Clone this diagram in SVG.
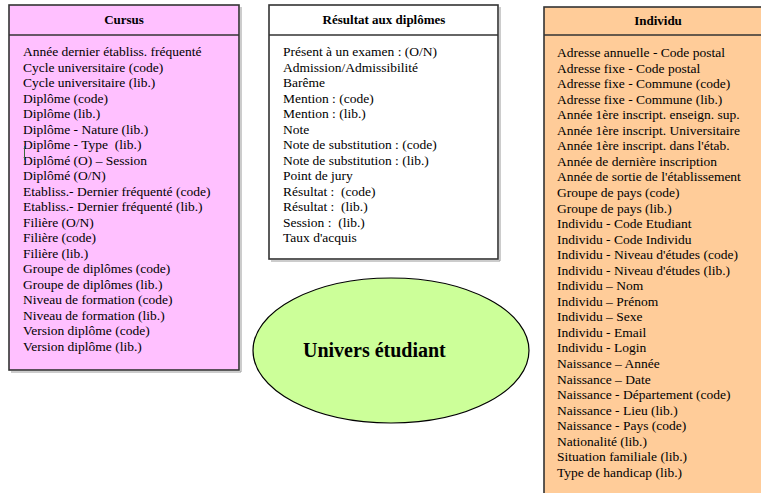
<svg xmlns="http://www.w3.org/2000/svg" width="761" height="493" viewBox="0 0 761 493">
<style>
.box{stroke:#333;stroke-width:1.6}
.sh{fill:none;stroke:#999;stroke-width:1}
.div{stroke:#333;stroke-width:1.6}
.hd{font-family:"Liberation Serif","Times New Roman",serif;font-weight:bold;font-size:13px;fill:#000;text-anchor:middle}
.it{font-family:"Liberation Serif","Times New Roman",serif;font-size:13.5px;fill:#000}
.big{font-family:"Liberation Serif","Times New Roman",serif;font-weight:bold;font-size:20px;fill:#000}
</style>
<rect width="761" height="493" fill="#fff"/>
<g id="connectors"/>
<g id="cursus">
<path class="sh" d="M241 7 V372 H11"/>
<rect class="box" x="9" y="5" width="230" height="365" fill="#FFC0FF"/>
<line class="div" x1="9" y1="35" x2="239" y2="35"/>
<text class="hd" x="124" y="24">Cursus</text>
<g class="it">
<text x="23" y="56">Année dernier établiss. fréquenté</text>
<text x="23" y="71.5">Cycle universitaire (code)</text>
<text x="23" y="87">Cycle universitaire (lib.)</text>
<text x="23" y="102.5">Diplôme (code)</text>
<text x="23" y="118">Diplôme (lib.)</text>
<text x="23" y="133.5">Diplôme - Nature (lib.)</text>
<text x="23" y="149" xml:space="preserve">Diplôme - Type  (lib.)</text>
<text x="23" y="164.5">Diplômé (O) – Session</text>
<text x="23" y="180">Diplômé (O/N)</text>
<text x="23" y="195.5">Etabliss.- Dernier fréquenté (code)</text>
<text x="23" y="211">Etabliss.- Dernier fréquenté (lib.)</text>
<text x="23" y="226.5">Filière (O/N)</text>
<text x="23" y="242">Filière (code)</text>
<text x="23" y="257.5">Filière (lib.)</text>
<text x="23" y="273">Groupe de diplômes (code)</text>
<text x="23" y="288.5">Groupe de diplômes (lib.)</text>
<text x="23" y="304">Niveau de formation (code)</text>
<text x="23" y="319.5">Niveau de formation (lib.)</text>
<text x="23" y="335">Version diplôme (code)</text>
<text x="23" y="350.5">Version diplôme (lib.)</text>
</g>
<line x1="24.5" y1="146" x2="24.5" y2="160" stroke="#3a6a3a" stroke-width="1"/>
</g>
<g id="resultat">
<path class="sh" d="M500 7 V261 H271"/>
<rect class="box" x="269" y="5" width="229" height="254" fill="#fff"/>
<line class="div" x1="269" y1="35" x2="498" y2="35"/>
<text class="hd" x="384" y="24">Résultat aux diplômes</text>
<g class="it">
<text x="283" y="56">Présent à un examen : (O/N)</text>
<text x="283" y="71.5">Admission/Admissibilité</text>
<text x="283" y="87">Barême</text>
<text x="283" y="102.5">Mention : (code)</text>
<text x="283" y="118">Mention : (lib.)</text>
<text x="283" y="133.5">Note</text>
<text x="283" y="149">Note de substitution : (code)</text>
<text x="283" y="164.5">Note de substitution : (lib.)</text>
<text x="283" y="180">Point de jury</text>
<text x="283" y="195.5" xml:space="preserve">Résultat :  (code)</text>
<text x="283" y="211" xml:space="preserve">Résultat :  (lib.)</text>
<text x="283" y="226.5" xml:space="preserve">Session :  (lib.)</text>
<text x="283" y="242">Taux d'acquis</text>
</g>
</g>
<g id="individu">
<rect class="box" x="544" y="7" width="240" height="500" fill="#FFCC99"/>
<line class="div" x1="544" y1="35" x2="784" y2="35"/>
<text class="hd" x="658" y="25">Individu</text>
<g class="it">
<text x="557" y="57">Adresse annuelle - Code postal</text>
<text x="557" y="72.55">Adresse fixe - Code postal</text>
<text x="557" y="88.1">Adresse fixe - Commune (code)</text>
<text x="557" y="103.65">Adresse fixe - Commune (lib.)</text>
<text x="557" y="119.2">Année 1ère inscript. enseign. sup.</text>
<text x="557" y="134.75">Année 1ère inscript. Universitaire</text>
<text x="557" y="150.3">Année 1ère inscript. dans l'étab.</text>
<text x="557" y="165.85">Année de dernière inscription</text>
<text x="557" y="181.4">Année de sortie de l'établissement</text>
<text x="557" y="196.95">Groupe de pays (code)</text>
<text x="557" y="212.5">Groupe de pays (lib.)</text>
<text x="557" y="228.05">Individu - Code Etudiant</text>
<text x="557" y="243.6">Individu - Code Individu</text>
<text x="557" y="259.15">Individu - Niveau d'études (code)</text>
<text x="557" y="274.7">Individu - Niveau d'études (lib.)</text>
<text x="557" y="290.25">Individu – Nom</text>
<text x="557" y="305.8">Individu – Prénom</text>
<text x="557" y="321.35">Individu – Sexe</text>
<text x="557" y="336.9">Individu - Email</text>
<text x="557" y="352.45">Individu - Login</text>
<text x="557" y="368">Naissance – Année</text>
<text x="557" y="383.55">Naissance – Date</text>
<text x="557" y="399.1">Naissance - Département (code)</text>
<text x="557" y="414.65">Naissance - Lieu (lib.)</text>
<text x="557" y="430.2">Naissance - Pays (code)</text>
<text x="557" y="445.75">Nationalité (lib.)</text>
<text x="557" y="461.3">Situation familiale (lib.)</text>
<text x="557" y="476.85">Type de handicap (lib.)</text>
</g>
</g>
<g id="univers">
<ellipse cx="391" cy="350.5" rx="138" ry="72.5" fill="#CCFF99" stroke="#000" stroke-width="1.2"/>
<text class="big" x="303" y="357">Univers étudiant</text>
</g>
</svg>
